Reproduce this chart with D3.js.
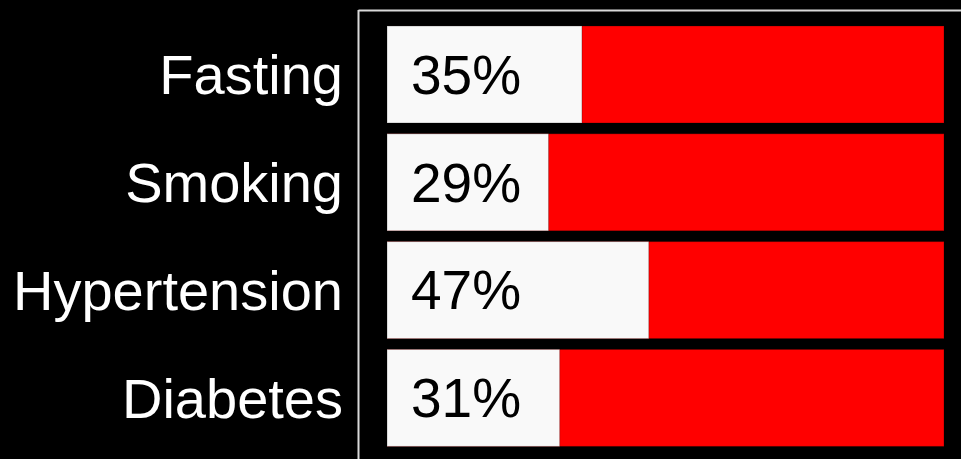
<!DOCTYPE html>
<html>
<head>
<meta charset="utf-8">
<script src="https://cdn.jsdelivr.net/npm/d3@7"></script>
<style>
  html, body { margin: 0; padding: 0; background: #000; }
  svg { display: block; }
  text { font-family: "Liberation Sans", Arial, Helvetica, sans-serif; }
</style>
</head>
<body>
<svg id="chart" width="961" height="459"></svg>
<script>
// Share of respondents per risk factor (percent)
const categories = ["Fasting", "Smoking", "Hypertension", "Diabetes"];
const values = [35, 29, 47, 31];
const valueLabels = ["35%", "29%", "47%", "31%"];

const width = 961, height = 459;
const svg = d3.select("#chart");

svg.append("rect").attr("width", width).attr("height", height).attr("fill", "#000");

const x = d3.scaleLinear().domain([0, 100]).range([387, 944]);
const y = d3.scaleBand().domain(categories).range([15.2, 457.2]).padding(0.1);

// frame along the top and left of the plot area
svg.append("line")
  .attr("x1", 358.5).attr("x2", width).attr("y1", 10.5).attr("y2", 10.5)
  .attr("stroke", "#d9d9d9").attr("stroke-width", 2);
svg.append("line")
  .attr("x1", 358.5).attr("x2", 358.5).attr("y1", 10).attr("y2", height)
  .attr("stroke", "#d9d9d9").attr("stroke-width", 2);

const rows = svg.selectAll("g.row")
  .data(categories.map((c, i) => ({ c, v: values[i], label: valueLabels[i] })))
  .join("g").attr("class", "row");

// remainder (full width, red)
rows.append("rect")
  .attr("x", x(0)).attr("y", d => y(d.c))
  .attr("width", x(100) - x(0)).attr("height", y.bandwidth())
  .attr("fill", "#ff0000").attr("stroke", "rgba(0,0,0,0.25)").attr("stroke-width", 1);

// share (white)
rows.append("rect")
  .attr("x", x(0)).attr("y", d => y(d.c))
  .attr("width", d => x(d.v) - x(0)).attr("height", y.bandwidth())
  .attr("fill", "#f9f9f9").attr("stroke", "rgba(0,0,0,0.25)").attr("stroke-width", 1);

rows.append("text")
  .attr("x", 411).attr("y", d => y(d.c) + y.bandwidth() / 2)
  .attr("dy", "0.35em")
  .attr("font-size", 55).attr("fill", "#000")
  .text(d => d.label);

rows.append("text")
  .attr("x", 343).attr("y", d => y(d.c) + y.bandwidth() / 2)
  .attr("dy", "0.35em").attr("text-anchor", "end")
  .attr("font-size", 56).attr("fill", "#fff")
  .text(d => d.c);
</script>
</body>
</html>
